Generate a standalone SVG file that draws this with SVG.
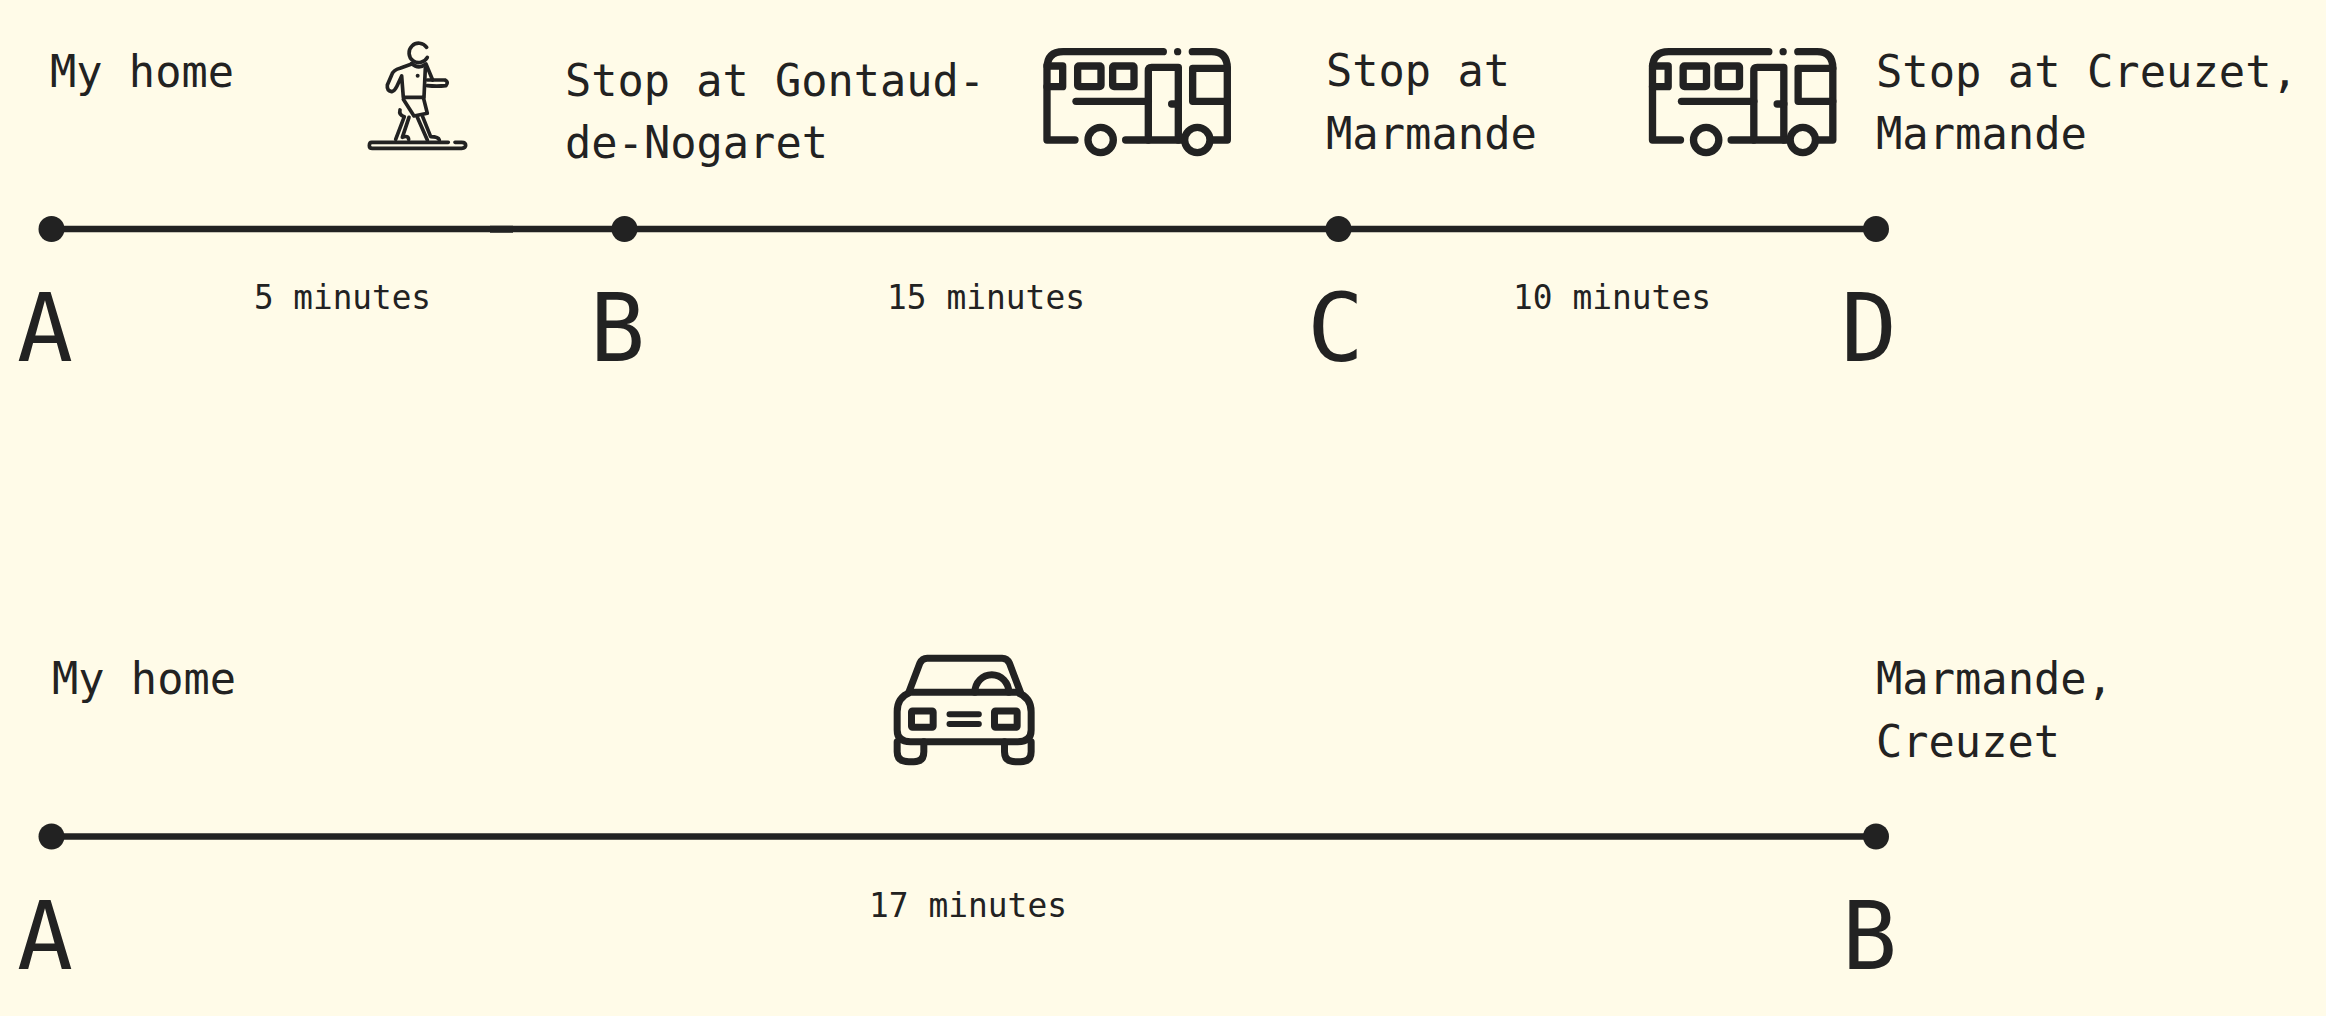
<svg xmlns="http://www.w3.org/2000/svg" xmlns:xlink="http://www.w3.org/1999/xlink" width="2326" height="1016" viewBox="0 0 2326 1016">
<style>
text{font-family:"DejaVu Sans Mono","Liberation Mono",monospace;fill:#222}
.t{font-size:45px}
.m{font-size:33px}
.l{font-size:94px}
.ln{stroke:#222;stroke-width:6.500;fill:none}
.dot{fill:#222}
.ic{fill:none;stroke:#222;stroke-linecap:round;stroke-linejoin:round}
</style>
<defs>
<g id="bus" class="ic" stroke-width="22">
<path d="M400 65H100Q51 65 51 115V330H135"/>
<path d="M51 108H98V170H51"/>
<rect x="143" y="108" width="70" height="62" rx="4"/>
<rect x="248" y="108" width="64" height="62" rx="4"/>
<path d="M138 214H355"/>
<path d="M355 330V122Q355 112 365 112H445V330"/>
<path d="M425 222H445"/>
<path d="M287 330H455"/>
<circle cx="212" cy="330" r="38"/>
<circle cx="502" cy="330" r="38"/>
<path d="M487 65H545Q592 65 592 115V330H550"/>
<path d="M592 115H488V214H592"/>
<circle cx="443" cy="65" r="11" fill="#222" stroke="none"/>
</g>
</defs>
<rect width="2326" height="1016" fill="#fffbe8"/>
<g id="connectors">
<path class="ln" d="M51 229H513" />
<path class="ln" d="M490 229.400H513" />
<path class="ln" d="M490 229H1338"/>
<path class="ln" d="M1338 229H1876"/>
<path class="ln" d="M51 836.500H1876"/>
</g>
<g id="node-a1"><circle class="dot" cx="51.500" cy="229" r="13"/><text class="t" x="50" y="87" textLength="184" lengthAdjust="spacingAndGlyphs">My home</text><text class="l" x="17" y="361" textLength="56" lengthAdjust="spacingAndGlyphs">A</text></g>
<g id="node-b1"><circle class="dot" cx="624.500" cy="229" r="13"/><text class="t" x="565" y="96" textLength="420" lengthAdjust="spacingAndGlyphs">Stop at Gontaud-</text><text class="t" x="565" y="158" textLength="263" lengthAdjust="spacingAndGlyphs">de-Nogaret</text><text class="l" x="590" y="361" textLength="55" lengthAdjust="spacingAndGlyphs">B</text></g>
<g id="node-c1"><circle class="dot" cx="1338.500" cy="229" r="13"/><text class="t" x="1326" y="86" textLength="184" lengthAdjust="spacingAndGlyphs">Stop at</text><text class="t" x="1326" y="149" textLength="211" lengthAdjust="spacingAndGlyphs">Marmande</text><text class="l" x="1307" y="361" textLength="57" lengthAdjust="spacingAndGlyphs">C</text></g>
<g id="node-d1"><circle class="dot" cx="1876" cy="229" r="13"/><text class="t" x="1876" y="87" textLength="422" lengthAdjust="spacingAndGlyphs">Stop at Creuzet,</text><text class="t" x="1876" y="149" textLength="211" lengthAdjust="spacingAndGlyphs">Marmande</text><text class="l" x="1841" y="361" textLength="56" lengthAdjust="spacingAndGlyphs">D</text></g>
<g id="node-a2"><circle class="dot" cx="51.500" cy="836.500" r="13"/><text class="t" x="52" y="694" textLength="184" lengthAdjust="spacingAndGlyphs">My home</text><text class="l" x="17" y="969" textLength="56" lengthAdjust="spacingAndGlyphs">A</text></g>
<g id="node-b2"><circle class="dot" cx="1876" cy="836.500" r="13"/><text class="t" x="1876" y="694" textLength="237" lengthAdjust="spacingAndGlyphs">Marmande,</text><text class="t" x="1876" y="757" textLength="184" lengthAdjust="spacingAndGlyphs">Creuzet</text><text class="l" x="1842" y="969" textLength="55" lengthAdjust="spacingAndGlyphs">B</text></g>
<g id="labels">
<text class="m" x="254" y="309" textLength="177" lengthAdjust="spacingAndGlyphs">5 minutes</text>
<text class="m" x="887" y="309" textLength="198" lengthAdjust="spacingAndGlyphs">15 minutes</text>
<text class="m" x="1513" y="309" textLength="198" lengthAdjust="spacingAndGlyphs">10 minutes</text>
<text class="m" x="869" y="917" textLength="198" lengthAdjust="spacingAndGlyphs">17 minutes</text>
</g>
<g id="walker" class="ic" stroke-width="11" transform="translate(340 20) scale(.3333)">
<path d="M260 82A29 29 0 1 0 262 112"/>
<path d="M325 367H95Q88 367 88 377Q88 385 97 385H365Q377 385 377 376Q377 367 365 367H345"/>
<path d="M215 132L180 145Q160 150 155 165L142 195Q140 212 155 215Q165 212 170 200L185 168L190 232H252L256 145"/>
<path d="M215 130Q235 150 258 132L278 180"/>
<path d="M262 180H315Q327 186 318 197Q290 200 262 197"/>
<path d="M190 238L222 288L262 280L250 232"/>
<path d="M180 270Q176 285 193 290L167 358"/>
<path d="M207 292L187 352Q205 345 206 358"/>
<path d="M232 292L262 360"/>
<path d="M248 290L272 350Q295 350 298 360"/>
<circle cx="233" cy="167" r="6" fill="#222" stroke="none"/>
</g>
<g id="bus1"><use xlink:href="#bus" href="#bus" transform="translate(1030 30) scale(.3333)"/></g>
<g id="bus2"><use xlink:href="#bus" href="#bus" transform="translate(1635.500 30) scale(.3333)"/></g>
<g id="car" class="ic" stroke-width="21" transform="translate(880.500 640) scale(.3333)">
<path d="M90 157H410Q452 172 452 215V270Q452 305 412 305H90Q50 305 50 270V215Q50 172 90 157Z"/>
<path d="M85 157L118 70Q125 55 140 55H365Q380 55 387 70L420 157"/>
<path d="M283 157A50 52 0 0 1 385 157"/>
<rect x="93" y="213" width="65" height="49" rx="3"/>
<rect x="342" y="213" width="68" height="49" rx="3"/>
<path d="M207 223H295M207 252H295" stroke-width="18"/>
<path d="M50 305V335Q50 365 85 365H100Q130 365 130 335V305"/>
<path d="M372 305V335Q372 365 405 365H420Q452 365 452 335V305"/>
</g>
</svg>
